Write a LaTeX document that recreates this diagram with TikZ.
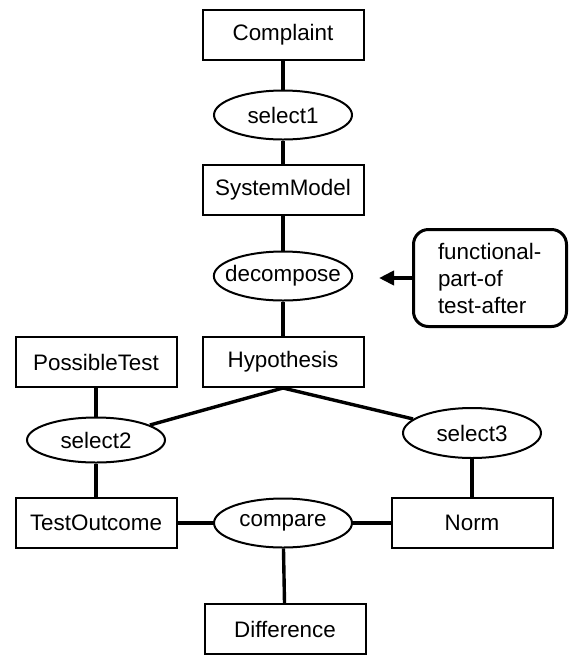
\documentclass[tikz,border=0pt]{standalone}
\usepackage{fontspec}
\setmainfont{Liberation Sans}
\usepackage{tikz}
\usetikzlibrary{arrows.meta,shapes.geometric,positioning}
\tikzset{
	concept graph/.style={
		x=0.5pt, y=-0.5pt,
		font=\fontsize{11.2}{13.5}\selectfont,
		every to/.style={draw},
		ln/.style={line width=1.7pt},
		ar/.style={line width=2pt, -{Triangle[length=7.5pt,width=7pt]}}
		},
	entity/.style={draw, line width=1pt, rectangle, minimum width=80.5pt, minimum height=25pt, inner sep=0pt},
	relation/.style={draw, line width=1pt, ellipse, minimum width=69pt, minimum height=24.5pt, inner xsep=-4.5pt, inner ysep=0pt},
	note/.style={draw, line width=1.5pt, rounded corners=7.5pt, minimum width=76.5pt, minimum height=48.5pt,
		align=left, text width=52pt, inner sep=0pt}
}

\begin{document}
\begin{tikzpicture}[concept graph]
      \useasboundingbox (0,0) rectangle (569,655);
      % main column
      \node[entity] (complaint) at (283,35) {Complaint};
      \node[relation] (select1) at (283,115) {select1};
      \node[entity] (systemmodel) at (283,190) {SystemModel};
      \node[relation] (decompose) at (283,276) {decompose};
      \node[entity] (hypothesis) at (283,362) {Hypothesis};
      % left and right columns
      \node[entity] (possibletest) at (96,362) {PossibleTest};
      \node[relation, minimum height=22.5pt] (select2) at (96,440) {select2};
      \node[entity] (testoutcome) at (96,523) {TestOutcome};
      \node[relation, minimum height=25pt] (select3) at (472,433) {select3};
      \node[entity] (norm) at (472,523) {Norm};
      \node[relation] (compare) at (283,523) {compare};
      \node[entity] (difference) at (285,629) {Difference};
      % annotation
      \node[note] (rels) at (490,278) {functional-\\part-of\\test-after};
      \coordinate (reltip) at (379,278);
      \draw[ln] (complaint) -- (select1) -- (systemmodel) -- (decompose) -- (hypothesis);
      \draw[ln] (possibletest) -- (select2) -- (testoutcome);
      \draw[ln] (select2) -- (hypothesis.south) -- (select3);
      \draw[ln] (select3) -- (norm);
      \draw[ln] (testoutcome) -- (compare) -- (norm);
      \draw[ln] (compare) -- (difference);
      \draw[ar] (rels) -- (reltip); %points at decompose
   \end{tikzpicture}
\end{document}
